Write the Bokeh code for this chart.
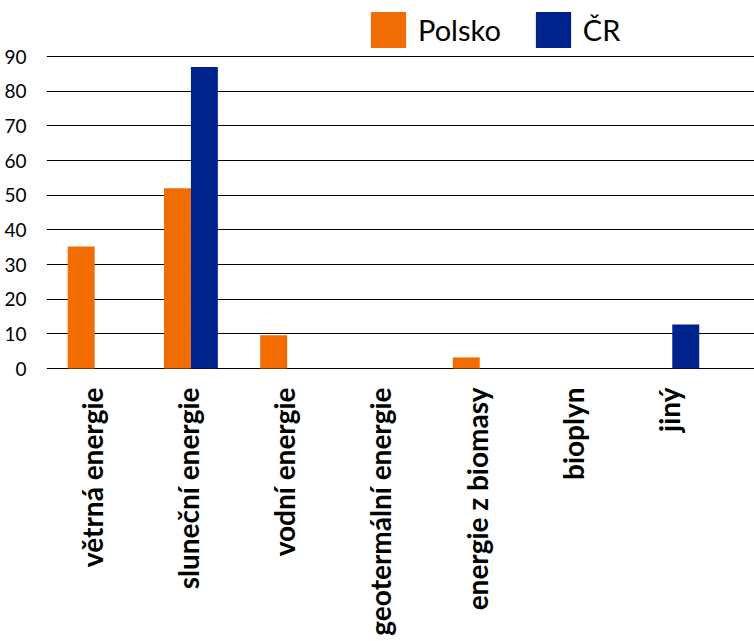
import numpy as np
from bokeh.plotting import figure
from bokeh.models import Range1d, FixedTicker, Legend, LegendItem
from bokeh.core.properties import value
from bokeh.embed import file_html
from bokeh.resources import INLINE

categories = ["větrná energie", "sluneční energie", "vodní energie",
              "geotermální energie", "energie z biomasy", "bioplyn", "jiný"]
polsko = [35.2, 52.0, 9.6, 0.0, 3.2, 0.0, 0.0]
cr = [0.0, 87.0, 0.0, 0.0, 0.0, 0.0, 12.7]
y_ticks = [0, 10, 20, 30, 40, 50, 60, 70, 80, 90]

ORANGE = "#F26C04"
BLUE = "#00228C"

idx = np.arange(len(categories))
bw = 0.28

# frame spans the whole canvas height: value 90 at 56px, value 0 at 368px
px_per_unit = 312 / 90
y_top = 56 / px_per_unit + 90
y_bottom = -(641 - 368) / px_per_unit

p = figure(width=754, height=641, output_backend="svg", toolbar_location=None,
           x_range=Range1d(-0.5, 6.854), y_range=Range1d(y_bottom, y_top),
           min_border_left=46, min_border_top=0, min_border_right=0,
           min_border_bottom=0)
p.outline_line_color = None
p.background_fill_color = "white"
p.border_fill_color = "white"

r1 = p.vbar(x=idx - bw / 2, top=polsko, width=bw, fill_color=ORANGE, line_color=None)
r2 = p.vbar(x=idx + bw / 2, top=cr, width=bw, fill_color=BLUE, line_color=None)

# y axis
p.yaxis.ticker = FixedTicker(ticks=y_ticks)
p.yaxis.axis_line_color = None
p.yaxis.major_tick_line_color = None
p.yaxis.minor_tick_line_color = None
p.yaxis.major_label_text_font = "Lato"
p.yaxis.major_label_text_font_size = "19px"
p.yaxis.major_label_text_color = "black"
p.yaxis.major_label_standoff = 14

p.ygrid.ticker = FixedTicker(ticks=y_ticks)
p.ygrid.grid_line_color = "black"
p.ygrid.grid_line_width = 1.2
p.xgrid.grid_line_color = None

# category labels as rotated text below the zero line
p.xaxis.visible = False
p.text(x=idx, y=[0] * len(categories), text=categories, angle=np.pi / 2,
       y_offset=19, x_offset=-3,
       text_align="right", text_baseline="middle",
       text_font=value("Lato"), text_font_style="bold",
       text_font_size=value("28px"), text_color="black")

legend = Legend(items=[LegendItem(label="Polsko", renderers=[r1]),
                       LegendItem(label="ČR", renderers=[r2])],
                orientation="horizontal", location=(320, 589))
legend.glyph_width = 44
legend.glyph_height = 45
legend.label_text_font = "Lato"
legend.label_text_font_size = "29px"
legend.label_text_color = "black"
legend.label_standoff = 8
legend.spacing = 30
legend.padding = 0
legend.margin = 0
legend.border_line_color = None
legend.background_fill_alpha = 0
p.add_layout(legend)

open("out.html", "w").write(file_html(p, INLINE))
